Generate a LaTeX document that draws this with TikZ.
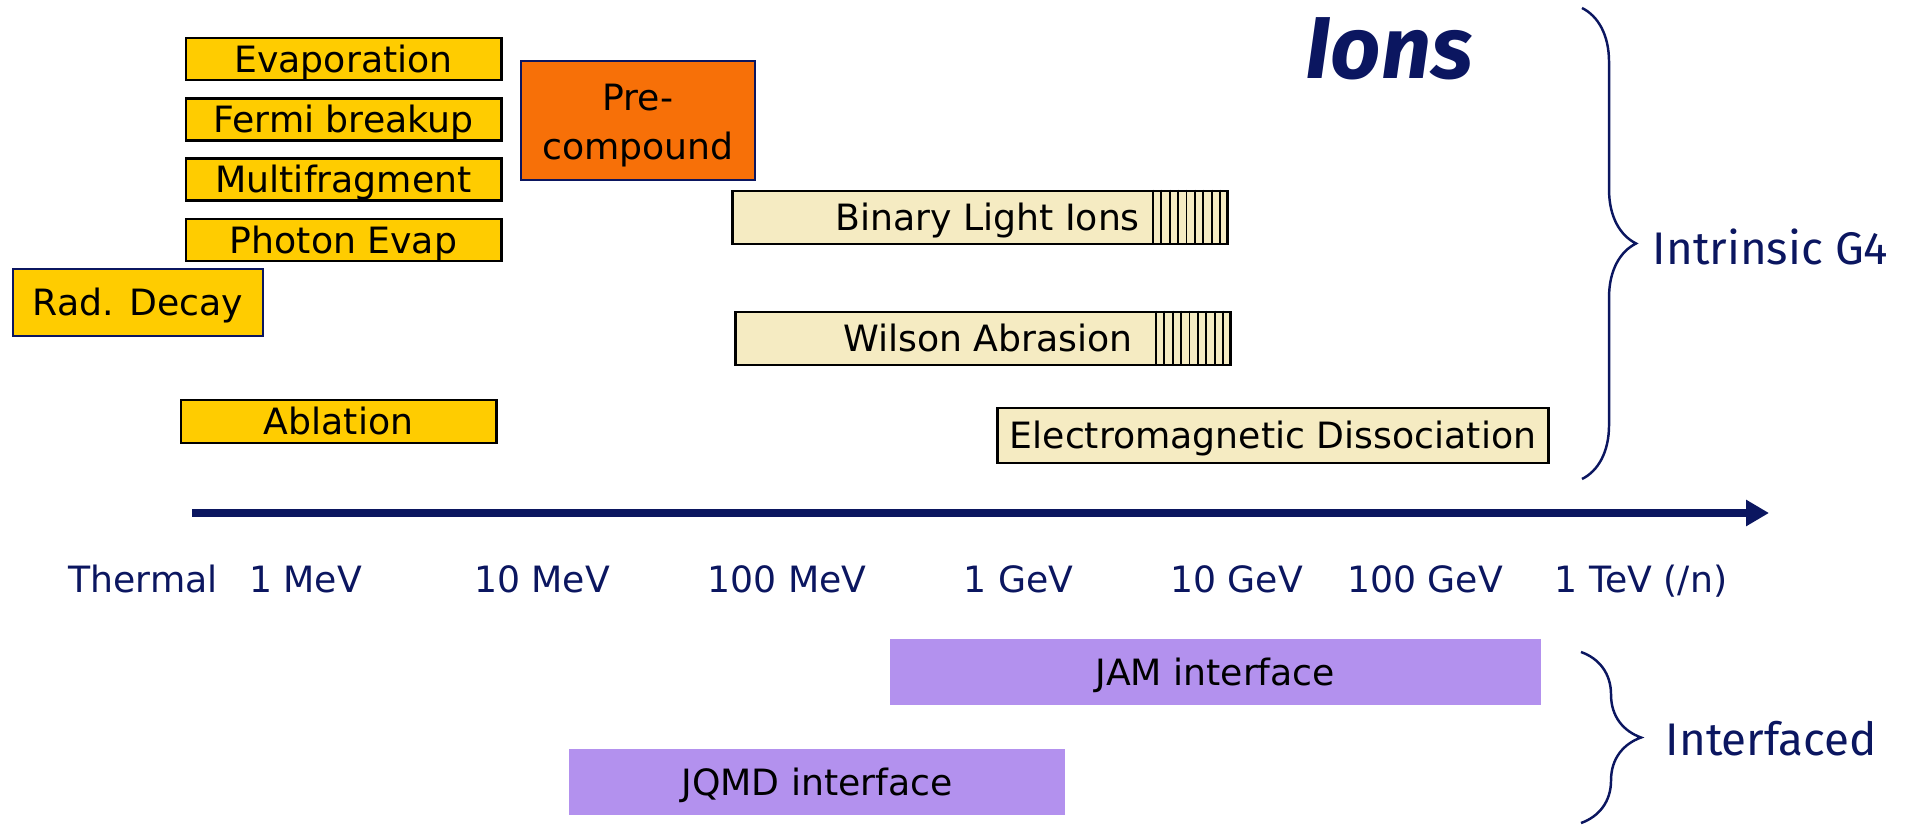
\documentclass[tikz,border=0pt]{standalone}
\usepackage{fontspec}
\setmainfont{DejaVu Sans}
\newfontfamily\gfont{Fira Sans}
\usepackage{xcolor}
\definecolor{pNavy}{HTML}{0B1660}
\definecolor{pYellow}{HTML}{FFCC00}
\definecolor{pOrange}{HTML}{F77008}
\definecolor{pBeige}{HTML}{F5EBC2}
\definecolor{pPurple}{HTML}{B391EE}
\usepackage{tikz}
\usetikzlibrary{arrows.meta, positioning, calc, decorations.pathreplacing}

\begin{document}
\begin{tikzpicture}[
  x=0.01cm, y=-0.01cm,
  node distance=0.155cm,
  every node/.style={font=\fontsize{10.3}{13.9}\selectfont, inner sep=0pt},
  ctext/.style={text height=0.265cm, text depth=0pt},
  model/.style={rectangle, draw=black, line width=0.8pt, fill=pYellow, ctext,
                minimum width=3.15cm, minimum height=0.42cm, align=center},
  pre/.style  ={rectangle, draw=pNavy, line width=0.8pt, fill=pOrange},
  hadr/.style ={rectangle, draw=black, line width=0.8pt, fill=pBeige, ctext},
  iface/.style={rectangle, fill=pPurple, ctext},
  tlabel/.style={text=pNavy, anchor=base},
  grp/.style={font=\gfont\fontsize{13}{16}\selectfont, text=pNavy, anchor=west},
  br/.style={draw=pNavy, line width=0.7pt, decorate, decoration={brace, amplitude=#1}},
  ax/.style={draw=pNavy, line width=2pt, -{Triangle[length=0.23cm, width=0.25cm]}}
]
\useasboundingbox (0,0) rectangle (1910,825);
\node[model] (evap) at (343.5,59) {Evaporation};
\node[model, below=of evap]  (fermi) {Fermi breakup};
\node[model, below=of fermi] (multi) {Multifragment};
\node[model, below=of multi] (phot)  {Photon Evap};
\node[model, draw=pNavy, minimum width=2.5cm, minimum height=0.67cm] (rad) at (138,302.5) {Rad. Decay};
\node[model, minimum height=0.43cm] (abl) at (338.5,421.5) {Ablation};
\node[pre, minimum width=2.34cm, minimum height=1.19cm] (precomp) at (638,120.5) {};
\node[align=center] (prel) at ([yshift=-0.05cm]precomp.center) {Pre-\\compound};
\node[hadr, minimum width=4.94cm, minimum height=0.53cm] (bin) at (980,217.5) {};
\node[hadr, minimum width=4.94cm, minimum height=0.53cm] (wil) at (983,338.5) {};
\node[hadr, minimum width=5.5cm, minimum height=0.55cm] (emd) at (1273,435.5) {Electromagnetic Dissociation};
\foreach \n in {bin,wil}
  \foreach \k in {1,...,9}
    \draw[line width=0.5pt] ($(\n.north east)+(-\k*8.4,0)$) -- ($(\n.south east)+(-\k*8.4,0)$);
\node[ctext, anchor=east] (binl) at ([xshift=-0.88cm]bin.east) {Binary Light Ions};
\node[ctext, anchor=east] (will) at ([xshift=-0.98cm]wil.east) {Wilson Abrasion};
\coordinate (axL) at (192,513);
\coordinate (axR) at (1769,513);
\draw[ax] (axL) -- (axR);
\foreach \lab/\xx/\nm in {Thermal/143/t0, 1 MeV/305.5/t1, 10 MeV/542/t2, 100 MeV/787/t3,
    1 GeV/1018.5/t4, 10 GeV/1236.5/t5, 100 GeV/1425/t6, {1 TeV (/n)}/1641/t7}
  \node[tlabel] (\nm) at (\xx,592) {\lab};
\node[iface, minimum width=6.51cm, minimum height=0.66cm] (jam) at (1215.5,672) {JAM interface};
\node[iface, minimum width=4.96cm, minimum height=0.66cm] (jqmd) at (817,782) {JQMD interface};
\node[font=\gfont\bfseries\itshape\fontsize{25}{30}\selectfont, text=pNavy, anchor=base] (ions) at (1389,79) {Ions};
\coordinate (b1t) at (1582,8);
\coordinate (b1b) at (1582,479);
\draw[br=0.54cm] (b1t) -- (b1b);
\node[grp] (intr) at (1652,247) {Intrinsic G4};
\coordinate (b2t) at (1581,652);
\coordinate (b2b) at (1581,823);
\draw[br=0.6cm] (b2t) -- (b2b);
\node[grp] (intf) at (1665,739) {Interfaced};
\end{tikzpicture}
\end{document}
